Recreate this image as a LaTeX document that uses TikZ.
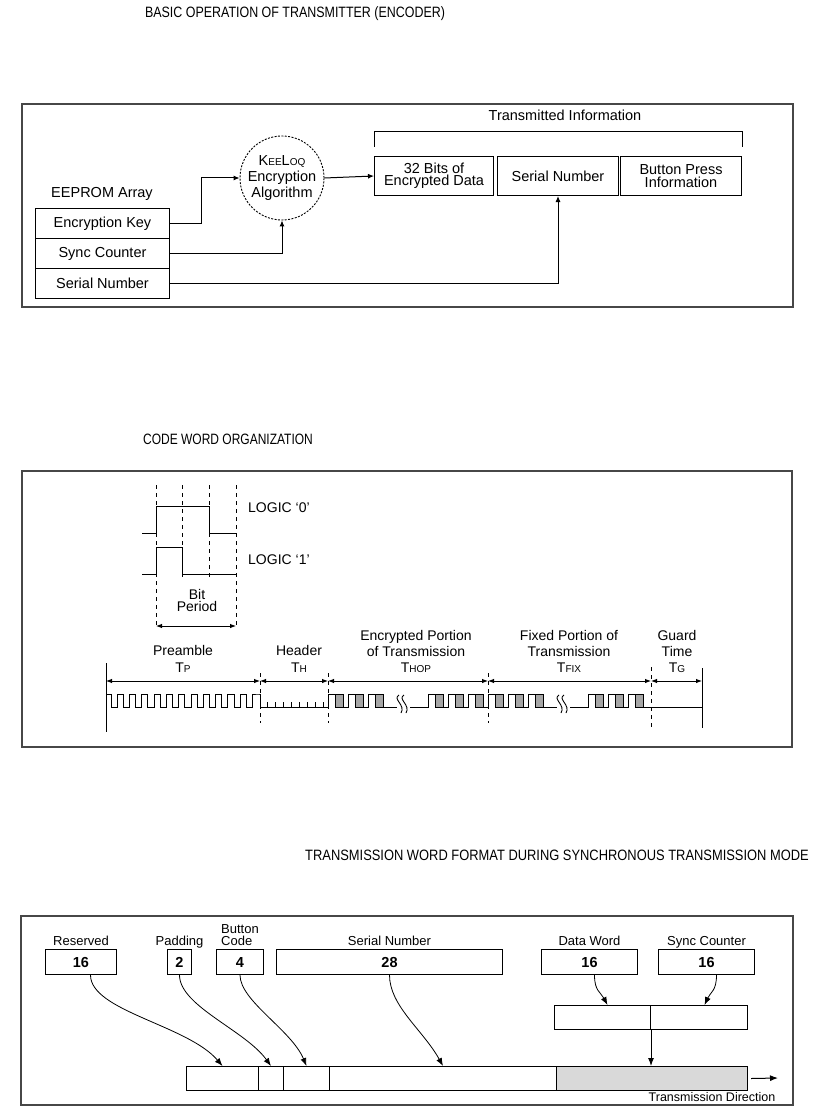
\documentclass[tikz,border=0pt]{standalone}
\usepackage{fontspec}
\setmainfont{Liberation Sans}
\usetikzlibrary{arrows.meta}
\newcommand\fA{\fontsize{14.5}{12.5}\selectfont}
\newcommand\fM{\fontsize{14}{12.5}\selectfont}
\newcommand\fB{\fontsize{13}{13}\selectfont}
\newcommand\fSm{\fontsize{10}{10}\selectfont}
\newcommand\fTitle{\fontsize{15}{15}\selectfont}
\newcommand\fDir{\fontsize{12.5}{12.5}\selectfont}
\newcommand\wavebreak[1]{%
  \draw[wave] (#1+2,695) .. controls (#1-5,699) and (#1+9,705) .. (#1+4,713);
  \draw[wave] (#1+7,695) .. controls (#1,699) and (#1+14,705) .. (#1+9,713);}
\begin{document}
\begin{tikzpicture}[x=1pt,y=-1pt,
  frame/.style={draw=black!72, line width=1.6pt},
  box/.style={draw, line width=1pt, inner sep=0pt, anchor=north west, align=center},
  lbl/.style={inner sep=0pt, align=center},
  arr/.style={line width=1pt, -{Latex[length=6pt,width=5pt]}},
  wave/.style={line width=0.9pt},
  dim/.style={line width=0.9pt, {Latex[length=6pt,width=4.5pt]}-{Latex[length=6pt,width=4.5pt]}},
  guide/.style={line width=0.9pt, dash pattern=on 4pt off 4pt},
  curv/.style={line width=0.8pt, -{Latex[length=8pt,width=6pt]}},
  graybit/.style={wave, fill=black!35}]
\fill[white] (0,0) rectangle (830,1118);
\useasboundingbox (0,0) rectangle (830,1118);

% ================= TOP =================
\node[lbl, font=\fTitle] (t1) at (295,14) {\scalebox{0.83}[1]{BASIC OPERATION OF TRANSMITTER (ENCODER)}};
\draw[frame] (22,104) rectangle (793,307);

\node[lbl, font=\fA] (eepl) at (102,194) {EEPROM Array};
\node[box, font=\fA, minimum width=134pt, minimum height=30pt] (ek) at (35,208) {Encryption Key};
\node[box, font=\fA, minimum width=134pt, minimum height=30pt] (sc) at (35,238) {Sync Counter};
\node[box, font=\fA, minimum width=134pt, minimum height=30pt] (sn) at (35,268) {Serial Number};

\node[draw, circle, line width=0.9pt, dash pattern=on 2pt off 1.4pt, minimum size=84pt,
      inner sep=0pt, align=center, font=\fontsize{14.5}{16}\selectfont] (kl) at (282,178)
      {K{\fSm EE}L{\fSm OQ}\\Encryption\\Algorithm};

\node[box, font=\fA, minimum width=119pt, minimum height=39pt] (b1) at (374,156) {32 Bits of\\Encrypted Data};
\node[box, font=\fA, minimum width=121pt, minimum height=39pt] (b2) at (497,156) {Serial Number};
\node[box, font=\fA, minimum width=121pt, minimum height=39pt] (b3) at (620,156) {Button Press\\Information};

\draw[line width=1pt] ([yshift=9pt]b1.north west) -- ([yshift=24pt]b1.north west) -| ([yshift=9pt]b3.north east);
\node[lbl, font=\fA] (tinf) at (565,115) {Transmitted Information};

\draw[arr] (ek.east) -- ++(31,0) |- (kl.west);
\draw[arr] (sc.east) -| (kl.south);
\draw[arr] (sn.east) -| (b2.south);
\draw[arr] (kl.east) -- (b1.west);

% ================= MIDDLE =================
\node[lbl, font=\fTitle] (t2) at (228,439) {\scalebox{0.8}[1]{CODE WORD ORGANIZATION}};
\draw[frame] (22,471) rectangle (792,747);

\draw[guide] (156,485) -- (156,628);
\draw[guide] (182,485) -- (182,580);
\draw[guide] (209,485) -- (209,580);
\draw[guide] (236,485) -- (236,628);
\draw[wave] (142,533) -- (156,533) -- (156,506) -- (209,506) -- (209,533) -- (236,533);
\draw[wave] (142,574) -- (156,574) -- (156,547) -- (182,547) -- (182,574) -- (236,574);
\node[lbl, font=\fM, anchor=west] (l0) at (248,508) {LOGIC `0'};
\node[lbl, font=\fM, anchor=west] (l1) at (248,560) {LOGIC `1'};
\node[lbl, font=\fontsize{14}{12}\selectfont] (bp) at (197,600) {Bit\\Period};
\draw[dim] (156,626) -- (236,626);

\node[lbl, font=\fontsize{14}{17}\selectfont] (pre) at (183,659) {Preamble\\T{\fSm P}};
\node[lbl, font=\fontsize{14}{17}\selectfont] (hdr) at (299,659) {Header\\T{\fSm H}};
\node[lbl, font=\fontsize{14}{16}\selectfont] (enc) at (416,651) {Encrypted Portion\\of Transmission\\T{\fSm HOP}};
\node[lbl, font=\fontsize{14}{16}\selectfont] (fix) at (569,651) {Fixed Portion of\\Transmission\\T{\fSm FIX}};
\node[lbl, font=\fontsize{14}{16}\selectfont] (grd) at (677,651) {Guard\\Time\\T{\fSm G}};

\draw[line width=1pt] (106,663) -- (106,732);
\draw[line width=1pt] (702,668) -- (702,728);
\draw[guide] (260,673) -- (260,723);
\draw[guide] (328,673) -- (328,723);
\draw[guide] (488,673) -- (488,723);
\draw[guide] (651,667) -- (651,730);

\draw[dim] (106,681) -- (260,681);
\draw[dim] (260,681) -- (328,681);
\draw[dim] (328,681) -- (488,681);
\draw[dim] (488,681) -- (651,681);
\draw[dim] (651,681) -- (702,681);

% gray data bits
\foreach \r in {328,348,368,428,448,468,488,508,528,588,608,628}
  \filldraw[graybit] (\r+7,694) rectangle (\r+15,707);
% preamble + header + encrypted group 1
\draw[wave] (106,694) -- (111,694)
  \foreach \i in {0,...,11} { -- ++(0,13) -- ++(6.2,0) -- ++(0,-13) -- ++(6.1,0) }
  -- (260,694) -- (260,707) -- (328,707)
  \foreach \r in {328,348,368} { -- (\r,707) -- (\r,694) -- (\r+15,694) -- (\r+15,707) }
  -- (397,707);
\foreach \x in {267,275,...,323} \draw[wave] (\x,707) -- (\x,702);
\wavebreak{397}
\draw[wave] (410,707)
  \foreach \r in {428,448,468,488,508,528} { -- (\r,707) -- (\r,694) -- (\r+15,694) -- (\r+15,707) }
  -- (557,707);
\wavebreak{557}
\draw[wave] (570,707)
  \foreach \r in {588,608,628} { -- (\r,707) -- (\r,694) -- (\r+15,694) -- (\r+15,707) }
  -- (702,707);

% ================= BOTTOM =================
\node[lbl, font=\fTitle] (t3) at (557,855) {\scalebox{0.86}[1]{TRANSMISSION WORD FORMAT DURING SYNCHRONOUS TRANSMISSION MODE}};
\draw[frame] (21,916) rectangle (793,1105);

\node[box, font=\bfseries\fA, minimum width=71pt, minimum height=25pt] (res) at (45,949) {16};
\node[box, font=\bfseries\fA, minimum width=24pt, minimum height=25pt] (pad) at (167,949) {2};
\node[box, font=\bfseries\fA, minimum width=47pt, minimum height=25pt] (btn) at (216,949) {4};
\node[box, font=\bfseries\fA, minimum width=226pt, minimum height=25pt] (ser) at (276,949) {28};
\node[box, font=\bfseries\fA, minimum width=96pt, minimum height=25pt] (dw) at (541,949) {16};
\node[box, font=\bfseries\fA, minimum width=96pt, minimum height=25pt] (scn) at (658,949) {16};

\node[lbl, font=\fB, anchor=base] (resl) at ([yshift=4pt]res.north) {Reserved};
\node[lbl, font=\fB, anchor=base] (padl) at ([yshift=4pt]pad.north) {Padding};
\node[lbl, font=\fB, anchor=base west] (btnl1) at (221,933) {Button};
\node[lbl, font=\fB, anchor=base west] (btnl2) at (221,945) {Code};
\node[lbl, font=\fB, anchor=base] (serl) at ([yshift=4pt]ser.north) {Serial Number};
\node[lbl, font=\fB, anchor=base] (dwl) at ([yshift=4pt]dw.north) {Data Word};
\node[lbl, font=\fB, anchor=base] (scnl) at ([yshift=4pt]scn.north) {Sync Counter};

\node[box, minimum width=96pt, minimum height=24pt] (ma) at (554,1005) {};
\node[box, minimum width=97pt, minimum height=24pt] (mb) at (650,1005) {};

\node[box, minimum width=72pt, minimum height=24pt] (c1) at (186,1066) {};
\node[box, minimum width=25pt, minimum height=24pt] (c2) at (258,1066) {};
\node[box, minimum width=46pt, minimum height=24pt] (c3) at (283,1066) {};
\node[box, minimum width=227pt, minimum height=24pt] (c4) at (329,1066) {};
\node[box, minimum width=191pt, minimum height=24pt, fill=black!15] (c5) at (556,1066) {};

\draw[curv] ([xshift=9.5pt]res.south) .. controls +(0,36) and +(-35,-41) .. (c1.north);
\draw[curv] (pad.south) .. controls +(0,31) and +(-26,-36) .. (c2.north);
\draw[curv] (btn.south) .. controls +(0,26) and +(-15,-36) .. (c3.north);
\draw[curv] (ser.south) .. controls +(0,31) and +(-20,-36) .. (c4.north);
\draw[curv] ([xshift=5pt]dw.south) .. controls +(0,16) and +(-7,-13) .. ([xshift=5pt]ma.north);
\draw[curv] ([xshift=10pt]scn.south) .. controls +(0,16) and +(6,-13) .. ([xshift=5.5pt]mb.north);
\draw[line width=1pt, -{Latex[length=8pt,width=6pt]}] (ma.south east) -- (ma.south east |- c5.north);

\coordinate (dir) at (778,1078);
\draw[line width=1pt, -{Latex[length=8pt,width=6pt]}] ([xshift=3pt]c5.east) -- (dir);
\node[lbl, font=\fDir] (dirl) at (712,1097.5) {Transmission Direction};
\end{tikzpicture}
\end{document}
